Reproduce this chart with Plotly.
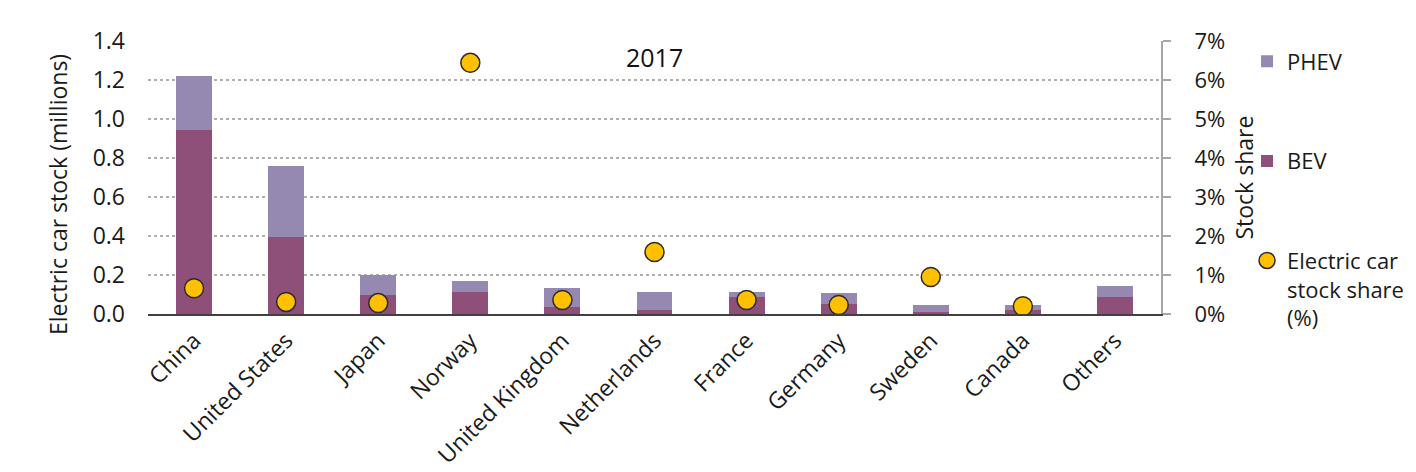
import plotly.graph_objects as go

categories = ["China", "United States", "Japan", "Norway", "United Kingdom",
              "Netherlands", "France", "Germany", "Sweden", "Canada", "Others"]
bev = [0.944, 0.393, 0.096, 0.112, 0.036, 0.019, 0.088, 0.053, 0.010, 0.019, 0.087]
phev_total = [1.223, 0.758, 0.198, 0.170, 0.131, 0.112, 0.114, 0.106, 0.046, 0.046, 0.143]
phev = [round(t - b, 3) for t, b in zip(phev_total, bev)]
share = [0.66, 0.31, 0.28, 6.44, 0.36, 1.59, 0.36, 0.23, 0.95, 0.20, None]

left_ticks = [0, 0.2, 0.4, 0.6, 0.8, 1.0, 1.2, 1.4]
left_labels = ["0.0", "0.2", "0.4", "0.6", "0.8", "1.0", "1.2", "1.4"]
right_ticks = [0, 1, 2, 3, 4, 5, 6, 7]
right_labels = ["0%", "1%", "2%", "3%", "4%", "5%", "6%", "7%"]
left_title = "Electric car stock (millions)"
right_title = "Stock share"
year_label = "2017"

FONT = "Open Sans"
TXT = "#1a1a1a"

fig = go.Figure()
fig.add_trace(go.Bar(
    x=categories, y=bev, name="BEV", marker=dict(color="#8E4F79", line=dict(width=0)),
    legendgroup="b", legendrank=2, width=0.39))
fig.add_trace(go.Bar(
    x=categories, y=phev, name="PHEV", marker=dict(color="#9589B1", line=dict(width=0)),
    legendgroup="a", legendrank=1, width=0.39))
fig.add_trace(go.Scatter(
    x=categories, y=share, name="Electric car<br>stock share<br>(%)", mode="markers",
    yaxis="y2", legendgroup="c", legendrank=3,
    marker=dict(color="#FFC000", size=19, line=dict(color="#2b2b2b", width=1.5))))

fig.update_layout(
    width=1408, height=464,
    margin=dict(l=140, r=255, t=33, b=158, autoexpand=False),
    paper_bgcolor="white", plot_bgcolor="white",
    barmode="stack",
    font=dict(family=FONT, size=23, color=TXT),
    showlegend=True,
    legend=dict(xref="container", yref="container", x=0.880, xanchor="left",
                y=0.93, yanchor="top",
                font=dict(family=FONT, size=22, color=TXT),
                tracegroupgap=68, valign="top", itemwidth=30, maxheight=440,
                bgcolor="rgba(0,0,0,0)"),
    xaxis=dict(range=[-0.5, 10.5], showline=True, linecolor="#404040", linewidth=2,
               ticks="", tickangle=-45, tickfont=dict(size=23), showgrid=False,
               ticklabelstandoff=2, automargin=False),
    yaxis=dict(range=[0, 1.4], tickvals=left_ticks, ticktext=left_labels,
               showgrid=True, gridcolor="#AFAFAF", griddash="dot", gridwidth=1.5,
               zeroline=False, showline=False, ticks="", automargin=False,
               tickfont=dict(size=23), ticklabelstandoff=22),
    yaxis2=dict(range=[0, 7], tickvals=right_ticks, ticktext=right_labels,
                overlaying="y", side="right", showgrid=False, zeroline=False,
                showline=True, linecolor="#A6A6A6", linewidth=2, automargin=False,
                ticks="outside", ticklen=8, tickcolor="#A6A6A6", tickwidth=1.5,
                tickfont=dict(size=22), ticklabelstandoff=19),
    annotations=[
        dict(text=year_label, x=0.5, y=0.94, xref="paper", yref="paper",
             xanchor="center", yanchor="middle",
             showarrow=False, font=dict(family=FONT, size=25, color="#111")),
        dict(text=left_title, x=-0.0888, y=0.436, xref="paper", yref="paper",
             xanchor="center", yanchor="middle", textangle=-90,
             showarrow=False, font=dict(family=FONT, size=23, color=TXT)),
        dict(text=right_title, x=1.081, y=0.5, xref="paper", yref="paper",
             xanchor="center", yanchor="middle", textangle=-90,
             showarrow=False, font=dict(family=FONT, size=23, color=TXT)),
    ],
)

fig.write_html("out.html")
